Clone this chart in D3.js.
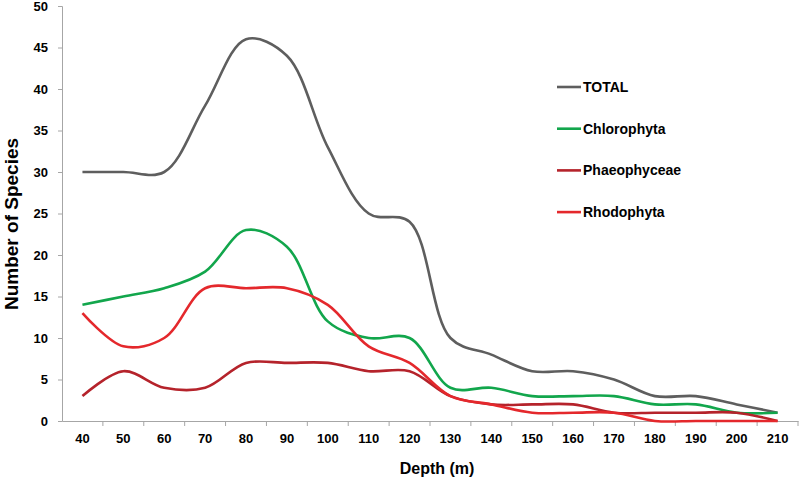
<!DOCTYPE html>
<html><head><meta charset="utf-8">
<script src="https://cdn.jsdelivr.net/npm/d3@7"></script>
<style>body{margin:0;background:#fff}svg{display:block}text{font-family:"Liberation Sans",Arial,sans-serif;font-weight:bold;fill:#000}</style>
</head><body><svg id="c" width="799" height="478"></svg>
<script>
const depths = [40,50,60,70,80,90,100,110,120,130,140,150,160,170,180,190,200,210];
const total        = [30,30,30,38,46,44,33,25,24,10,8,6,6,5,3,3,2,1];
const chlorophyta  = [14,15,16,18,23,21,12,10,10,4,4,3,3,3,2,2,1,1];
const phaeophyceae = [3,6,4,4,7,7,7,6,6,3,2,2,2,1,1,1,1,0];
const rhodophyta   = [13,9,10,16,16,16,14,9,7,3,2,1,1,1,0,0,0,0];
const yTicks = [0,5,10,15,20,25,30,35,40,45,50];
const seriesNames = ["TOTAL","Chlorophyta","Phaeophyceae","Rhodophyta"];
const seriesData = [total, chlorophyta, phaeophyceae, rhodophyta];
const colors = ["#5e5e5e","#12a64c","#b5232b","#e4282c"];

const svg = d3.select("#c");
const x = d3.scaleBand().domain(depths).range([62,798]);
const y = d3.scaleLinear().domain([0,50]).range([421,6]);

const ya = svg.append("g").attr("transform","translate(62,0)")
  .call(d3.axisLeft(y).tickValues(yTicks).tickSize(4).tickPadding(10));
ya.selectAll("text").style("font-size","13px");
const xa = svg.append("g").attr("transform","translate(0,421)")
  .call(d3.axisBottom(x).tickSize(0).tickPadding(13));
xa.selectAll("text").style("font-size","13px");
xa.selectAll("line.bt").data(depths).enter().append("line")
  .attr("class","bt")
  .attr("x1",d=>x(d)+x.bandwidth()).attr("x2",d=>x(d)+x.bandwidth())
  .attr("y1",0).attr("y2",5).attr("stroke","#a6a6a6");
svg.selectAll(".domain").attr("stroke","#a6a6a6");
ya.selectAll(".tick line").attr("stroke","#a6a6a6");

const line = d3.line().x((d,i)=>x(depths[i])+x.bandwidth()/2).y(d=>y(d))
  .curve(d3.curveCatmullRom.alpha(0.5));
seriesData.forEach((s,k)=>{
  svg.append("path").datum(s).attr("d",line).attr("fill","none")
    .attr("stroke",colors[k]).attr("stroke-width",2.6);
});

const lg = svg.append("g");
seriesNames.forEach((n,k)=>{
  const yy = 87 + k*41.7;
  lg.append("line").attr("x1",557).attr("x2",581).attr("y1",yy).attr("y2",yy)
    .attr("stroke",colors[k]).attr("stroke-width",2.6);
  lg.append("text").attr("x",583).attr("y",yy+5).style("font-size","14px").text(n);
});

svg.append("text").attr("transform","translate(17.5,224) rotate(-90)")
  .attr("text-anchor","middle").style("font-size","19px").text("Number of Species");
svg.append("text").attr("x",437).attr("y",474).attr("text-anchor","middle")
  .style("font-size","16px").text("Depth (m)");
</script></body></html>
